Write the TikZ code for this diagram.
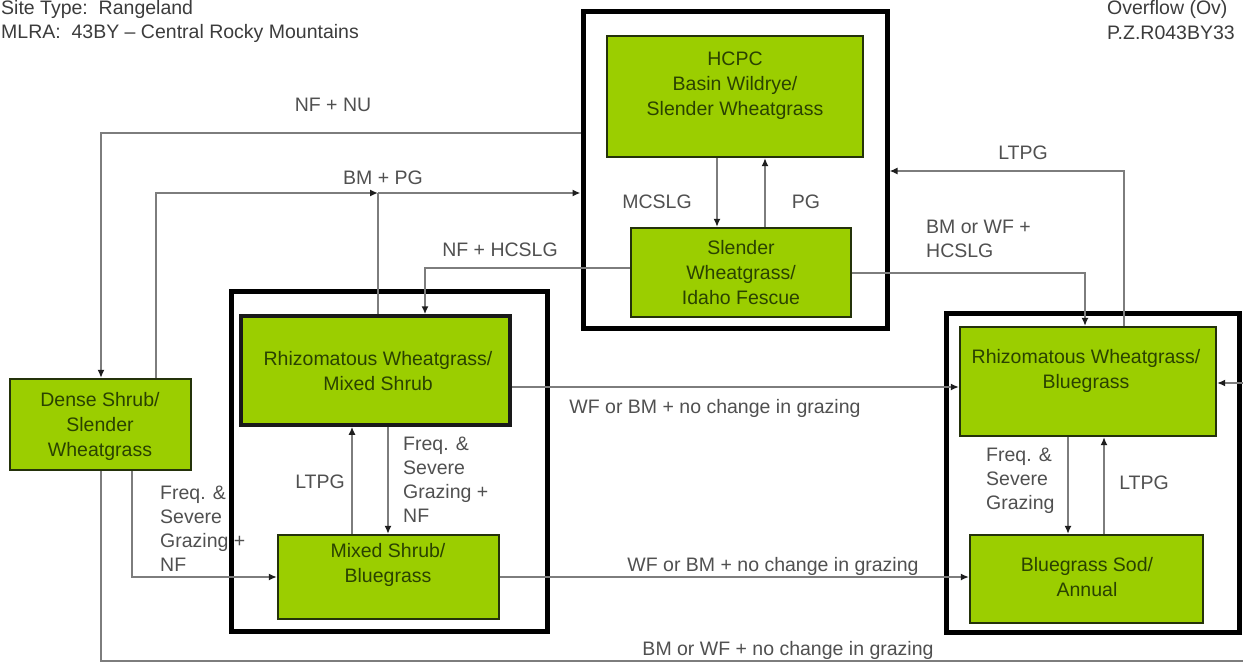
\documentclass[tikz,border=0pt]{standalone}
\usepackage{fontspec}
\setmainfont{Liberation Sans}
\usetikzlibrary{arrows.meta,calc}
\definecolor{boxgreen}{RGB}{155,206,0}
\definecolor{boxedge}{RGB}{36,50,10}
\definecolor{boxtxt}{RGB}{42,66,0}
\definecolor{lbltxt}{RGB}{80,80,80}
\definecolor{hdrtxt}{RGB}{60,60,60}
\definecolor{linegray}{RGB}{125,125,125}
\definecolor{tipcol}{RGB}{30,30,30}
\begin{document}
\begin{tikzpicture}[x=1pt,y=-1pt,
  state/.style={draw=boxedge, line width=2.2pt, fill=boxgreen, inner sep=0pt, outer sep=1.1pt},
  stxt/.style={text=boxtxt, align=center, font=\fontsize{19.5}{25}\selectfont, inner sep=0pt},
  group/.style={draw=black, line width=5pt, inner sep=0pt, outer sep=2.5pt},
  conn/.style={draw=linegray, line width=1.6pt},
  arr/.style={conn, -{Latex[length=8pt,width=7pt,color=tipcol]}},
  lbl/.style={text=lbltxt, font=\fontsize{19.5}{24}\selectfont, inner sep=0pt},
  hdr/.style={text=hdrtxt, font=\fontsize{19.5}{24}\selectfont, inner sep=0pt},
]
\useasboundingbox (0,0) rectangle (1243,664);
\clip (0,0) rectangle (1243,664);
\fill[white] (0,0) rectangle (1243,664);

% header
\node[hdr, anchor=west] (h1) at (1,9) {Site Type:\ \ Rangeland};
\node[hdr, anchor=west] (h2) at (1,33) {MLRA:\ \ 43BY – Central Rocky Mountains};
\node[hdr, anchor=west] (h3) at (1107,9) {Overflow (Ov)};
\node[hdr, anchor=west] (h4) at (1107,33) {P.Z.R043BY33};

% group boxes
\node[group, minimum width=304pt, minimum height=317pt] (gtop) at (735,169.5) {};
\node[group, minimum width=316pt, minimum height=340pt] (gmid) at (389,461) {};
\node[group, minimum width=293pt, minimum height=319pt] (gright) at (1092.5,472.5) {};

% state boxes
\node[state, minimum width=256pt, minimum height=121pt] (hcpc) at (735,96.5) {};
\node[state, minimum width=220pt, minimum height=89pt] (slender) at (741,272.5) {};
\node[state, line width=3.5pt, draw=black!90, outer sep=1.75pt, minimum width=269pt, minimum height=109pt] (rms) at (375.5,370.5) {};
\node[state, minimum width=221pt, minimum height=84pt] (msb) at (388.5,577) {};
\node[state, minimum width=181pt, minimum height=91pt] (dss) at (100.5,424.5) {};
\node[state, minimum width=256pt, minimum height=109pt] (rwb) at (1088,381.5) {};
\node[state, minimum width=233pt, minimum height=88pt] (bsa) at (1086.5,579) {};

% helper coordinates
\coordinate (yNU) at (0,133);
\coordinate (yPG) at (0,193);
\coordinate (yHC1) at (0,268);
\coordinate (yHC2) at (0,273);
\coordinate (yLT) at (0,171);
\coordinate (yWF1) at (0,387);
\coordinate (yWF2) at (0,577);
\coordinate (yBot) at (0,661);
\coordinate (yRt) at (0,383);
\coordinate (xNU) at (101,0);
\coordinate (xPG) at (156,0);
\coordinate (xJ) at (378,0);
\coordinate (xHC1) at (425,0);
\coordinate (xHC2) at (1085,0);
\coordinate (xLT) at (1124,0);
\coordinate (xMC) at (717,0);
\coordinate (xPGu) at (765,0);
\coordinate (xFS1) at (388,0);
\coordinate (xLT1) at (352,0);
\coordinate (xDS) at (132,0);
\coordinate (xFS2) at (1068,0);
\coordinate (xLT2) at (1104,0);
\coordinate (xR) at (1262,0);
\coordinate (j) at (378,193);

% connectors
\draw[arr] (gtop.west |- yNU) -- (xNU |- yNU) -- (dss.north -| xNU);
\draw[arr] (dss.north -| xPG) -- (xPG |- yPG) -- (j);
\draw[conn] (rms.north -| xJ) -- (j);
\draw[arr] (j) -- (gtop.west |- yPG);
\draw[arr] (slender.west |- yHC1) -- (xHC1 |- yHC1) -- (rms.north -| xHC1);
\draw[arr] (slender.east |- yHC2) -- (xHC2 |- yHC2) -- (rwb.north -| xHC2);
\draw[arr] (rwb.north -| xLT) -- (xLT |- yLT) -- (gtop.east |- yLT);
\draw[arr] (hcpc.south -| xMC) -- (slender.north -| xMC);
\draw[arr] (slender.north -| xPGu) -- (hcpc.south -| xPGu);
\draw[arr] (rms.east |- yWF1) -- (rwb.west |- yWF1);
\draw[arr] (rms.south -| xFS1) -- (msb.north -| xFS1);
\draw[arr] (msb.north -| xLT1) -- (rms.south -| xLT1);
\draw[arr] (dss.south -| xDS) -- (xDS |- yWF2) -- (msb.west |- yWF2);
\draw[arr] (msb.east |- yWF2) -- (bsa.west |- yWF2);
\draw[arr] (rwb.south -| xFS2) -- (bsa.north -| xFS2);
\draw[arr] (bsa.north -| xLT2) -- (rwb.south -| xLT2);
\draw[arr] (dss.south -| xNU) -- (xNU |- yBot) -- (xR |- yBot) -- (xR |- yRt) -- (rwb.east |- yRt);

% state texts
\node[stxt] (thcpc) at (735,86) {HCPC\\Basin Wildrye/\\Slender Wheatgrass};
\node[stxt] (tsl) at (741,273) {Slender\\Wheatgrass/\\Idaho Fescue};
\node[stxt] (trms) at (378,371) {Rhizomatous Wheatgrass/\\Mixed Shrub};
\node[stxt] (tmsb) at (388,565) {Mixed Shrub/\\Bluegrass};
\node[stxt] (tdss) at (100,426) {Dense Shrub/\\Slender\\Wheatgrass};
\node[stxt] (trwb) at (1086,371) {Rhizomatous Wheatgrass/\\Bluegrass};
\node[stxt] (tbsa) at (1087,577) {Bluegrass Sod/\\Annual};

% labels
\node[lbl] (lNU) at (333,105) {NF + NU};
\node[lbl] (lPG) at (383,178) {BM + PG};
\node[lbl] (lHC1) at (500,250) {NF + HCSLG};
\node[lbl, anchor=west, align=left] (lHC2) at (926,239) {BM or WF +\\HCSLG};
\node[lbl] (lLT) at (1023,153) {LTPG};
\node[lbl] (lMC) at (657,202) {MCSLG};
\node[lbl] (lPGu) at (806,202) {PG};
\node[lbl] (lWF1) at (715,408) {WF or BM + no change in grazing};
\node[lbl, anchor=west, align=left] (lFS1) at (403,480) {Freq. \&\\Severe\\Grazing +\\NF};
\node[lbl] (lLT1) at (320,482) {LTPG};
\node[lbl, anchor=west, align=left] (lFS0) at (160,529) {Freq. \&\\Severe\\Grazing +\\NF};
\node[lbl] (lWF2) at (773,566) {WF or BM + no change in grazing};
\node[lbl, anchor=west, align=left] (lFS2) at (986,481) {Freq. \&\\Severe\\Grazing};
\node[lbl] (lLT2) at (1144,483) {LTPG};
\node[lbl] (lBot) at (788,650) {BM or WF + no change in grazing};
\end{tikzpicture}
\end{document}
